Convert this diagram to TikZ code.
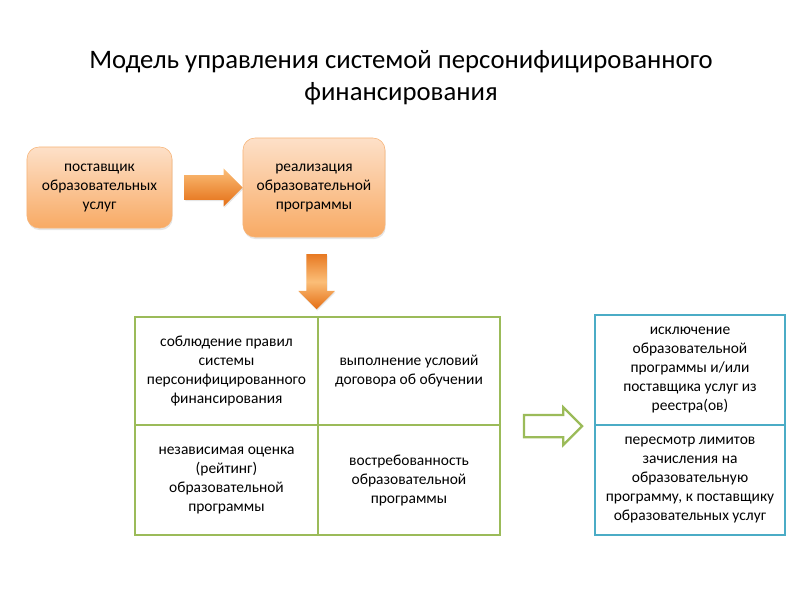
\documentclass[tikz,border=0pt]{standalone}
\usepackage{fontspec}
\setmainfont{Carlito}
\usetikzlibrary{shapes.arrows,positioning,calc,shadows}

\begin{document}
\begin{tikzpicture}[x=0.025cm,y=-0.025cm]
		\definecolor{peach}{RGB}{253,224,200}
		\definecolor{darkpeach}{RGB}{248,170,100}
		\definecolor{peachline}{RGB}{247,180,120}
		\definecolor{arrowtop}{RGB}{251,190,120}
		\definecolor{arrowbot}{RGB}{228,110,20}
		\definecolor{gridgreen}{RGB}{155,187,89}
		\definecolor{regblue}{RGB}{75,172,198}

		\tikzset{
			txt/.style={font=\fontsize{11}{13.5}\selectfont,align=center,inner sep=0pt},
			peachbox/.style={txt,rounded corners=0.3cm,draw=peachline,top color=peach,bottom color=darkpeach,
				drop shadow={opacity=0.2,shadow xshift=0.5pt,shadow yshift=-1.5pt}},
			cellbox/.style={txt,draw=gridgreen,line width=1.6pt,fill=white},
			bluebox/.style={txt,draw=regblue,line width=1.6pt,fill=white},
			fatarrow/.style={single arrow,inner xsep=0pt,inner ysep=0.3cm,single arrow head extend=0.17cm,
				top color=arrowtop,bottom color=arrowbot,draw=none,
				drop shadow={opacity=0.2,shadow xshift=0.5pt,shadow yshift=-1pt}},
		}

		\useasboundingbox (0,0) rectangle (800,600);

		% title
		\node[font=\fontsize{19}{22.7}\selectfont,align=center] (title) at (401,78)
			{Модель управления системой персонифицированного\\финансирования};

		% top row
		\node[peachbox,minimum width=3.625cm,minimum height=2.025cm] (provider) at (99.5,187.5)
			{поставщик\\образовательных\\услуг};
		\node[peachbox,minimum width=3.55cm,minimum height=2.475cm] (program) at (314,187.5)
			{реализация\\образовательной\\программы};

		% grid of conditions
		\node[cellbox,minimum width=4.575cm,minimum height=2.7cm] (rules) at (226.5,371)
			{соблюдение правил\\системы\\персонифицированного\\финансирования};
		\node[cellbox,minimum width=4.55cm,minimum height=2.7cm] (contract) at (409,371)
			{выполнение условий\\договора об обучении};
		\node[cellbox,minimum width=4.575cm,minimum height=2.75cm] (rating) at (226.5,480)
			{независимая оценка\\(рейтинг)\\образовательной\\программы};
		\node[cellbox,minimum width=4.55cm,minimum height=2.75cm] (demand) at (409,480)
			{востребованность\\образовательной\\программы};

		% consequences
		\node[bluebox,minimum width=4.75cm,minimum height=2.75cm] (exclude) at (690,370)
			{исключение\\образовательной\\программы и/или\\поставщика услуг из\\реестра(ов)};
		\node[bluebox,minimum width=4.75cm,minimum height=2.75cm] (limits) at (690,480)
			{пересмотр лимитов\\зачисления на\\образовательную\\программу, к поставщику\\образовательных услуг};

		% block arrows
		\node[fatarrow,minimum height=1.45cm]
			(arrowright) at ($(provider.east)!0.5!(program.west)$) {};
		\node[fatarrow,rotate=-90,inner ysep=0.25cm,single arrow head extend=0.2cm,minimum height=1.375cm,
			top color=arrowbot!85!arrowtop,bottom color=arrowbot,middle color=arrowtop]
			(arrowdown) at ($(program.south)!0.5!(rules.north east)$) {};
		\node[single arrow,inner xsep=0pt,inner ysep=0.25cm,single arrow head extend=0.19cm,
			draw=gridgreen,line width=1.6pt,fill=white,minimum height=1.45cm]
			(arrowhollow) at ($(contract.south east)!0.5!(exclude.south west)$) {};
\end{tikzpicture}
\end{document}
